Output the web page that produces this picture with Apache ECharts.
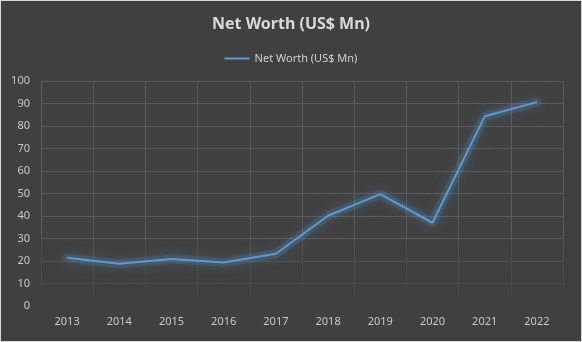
<!DOCTYPE html>
<html><head><meta charset="utf-8">
<script src="https://cdn.jsdelivr.net/npm/echarts@6/dist/echarts.min.js"></script>
<style>
html,body{margin:0;padding:0;background:#d9d9d9;}
#c{position:absolute;left:1px;top:1px;width:580px;height:340px;background:#404040;}
</style></head><body>
<div id="c"></div>
<script>
var years = ['2013','2014','2015','2016','2017','2018','2019','2020','2021','2022'];
var netWorth = [21.4, 18.8, 20.9, 19.3, 23.2, 40.1, 49.7, 37.0, 84.3, 90.6];
var seriesName = 'Net Worth (US$ Mn)';
var chart = echarts.init(document.getElementById('c'), null, {renderer:'canvas'});
var vGrad = new echarts.graphic.LinearGradient(0, 80, 0, 305, [
  {offset:0, color:'#5a5a5a'}, {offset:0.70, color:'#5a5a5a'},
  {offset:0.72, color:'#505050'}, {offset:0.9, color:'#4a4a4a'},
  {offset:0.97, color:'#404040'}, {offset:1, color:'#404040'}], true);
chart.setOption({
  backgroundColor:'#404040',
  animation:false,
  title:{text:'Net Worth (US$ Mn)', left:'center', top:10,
    textStyle:{color:'#d9d9d9', fontFamily:'Noto Sans', fontWeight:'bold', fontSize:16}},
  legend:{data:[{name:seriesName, icon:'rect'}], top:47, left:'center', itemWidth:25, itemHeight:2, itemGap:2,
    itemStyle:{color:'#5b9bd5', borderWidth:0}, lineStyle:{width:0},
    textStyle:{color:'#d0d0d0', fontFamily:'Noto Sans', fontSize:11}},
  grid:{left:40, right:18, top:80, bottom:35, containLabel:false},
  xAxis:{type:'category', data:years, boundaryGap:true,
    axisLine:{show:false}, axisTick:{show:false},
    axisLabel:{color:'#c8c8c8', fontFamily:'Noto Sans', fontSize:11, margin:10},
    splitLine:{show:true, lineStyle:{color:vGrad, width:1}}},
  yAxis:{type:'value', min:0, max:100, interval:10,
    axisLine:{show:false}, axisTick:{show:false},
    axisLabel:{color:'#c8c8c8', fontFamily:'Noto Sans', fontSize:11, margin:11},
    splitLine:{show:true, lineStyle:{color:['rgba(0,0,0,0)','#4b4b4b','#525252','#5a5a5a','#5a5a5a','#5a5a5a','#5a5a5a','#5a5a5a','#5a5a5a','#5a5a5a','#5a5a5a'], width:1}}},
  series:[
    {name:'glow', type:'line', data:netWorth, showSymbol:false, symbol:'none', silent:true,
      lineStyle:{color:'rgba(91,155,213,0.18)', width:9, cap:'round', join:'round',
        shadowColor:'rgba(91,155,213,0.9)', shadowBlur:12}},
    {name:seriesName, type:'line', data:netWorth, showSymbol:false, symbol:'none',
      lineStyle:{color:'#5b9bd5', width:2},
      itemStyle:{color:'#5b9bd5'}}]
});
</script></body></html>
